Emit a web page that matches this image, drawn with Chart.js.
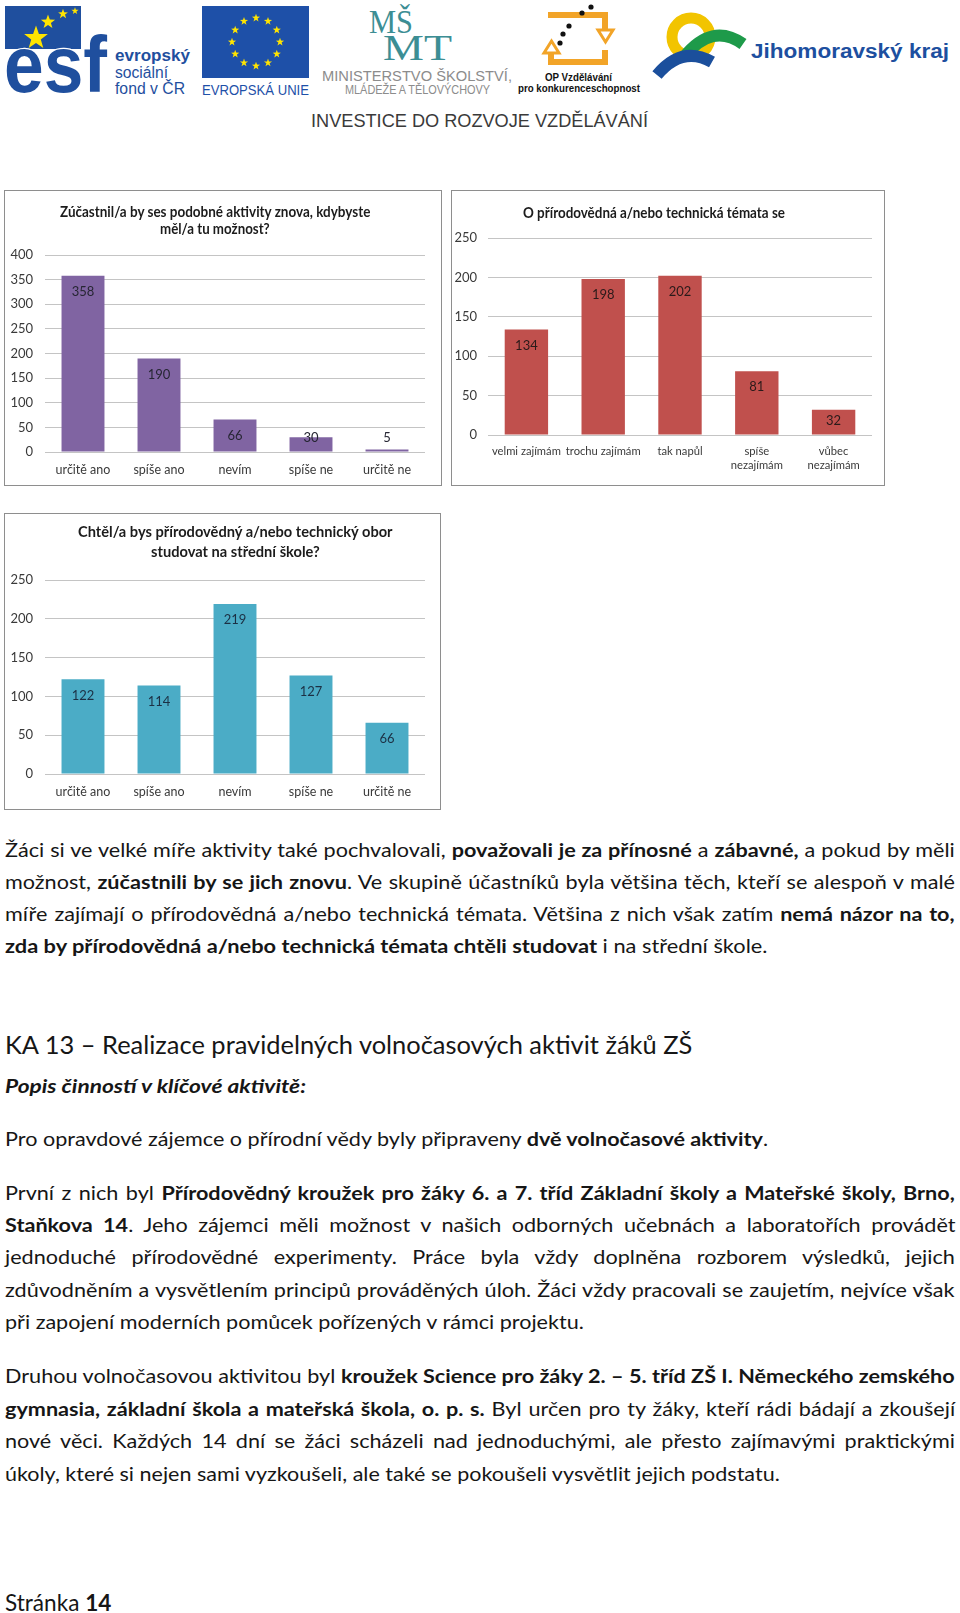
<!DOCTYPE html>
<html lang="cs"><head><meta charset="utf-8">
<script src="https://cdn.jsdelivr.net/npm/chart.js@4.4.1/dist/chart.umd.min.js"></script>
<style>
html,body{margin:0;padding:0;background:#fff;}
body{width:960px;height:1613px;position:relative;overflow:hidden;font-family:Lato,"Open Sans",sans-serif;color:#161616;}
.box{position:absolute;border:1px solid #8e8e8e;background:#fff;}
.box canvas{position:absolute;left:0;top:0;}
.ttl{position:absolute;white-space:nowrap;font-weight:700;font-size:15px;line-height:18px;color:#1c1c1c;transform-origin:0 50%;}
.ln{position:absolute;left:5px;white-space:nowrap;font-size:19px;line-height:24px;transform-origin:0 50%;}
.hd{font-size:25px;line-height:30px;}
.ft{font-size:23px;line-height:28px;}
svg text{font-family:"Liberation Sans",Arial,sans-serif;}
</style></head>
<body>
<script>
// ---- data ----
const cats1 = ['určitě ano','spíše ano','nevím','spíše ne','určitě ne'];
const vals1 = [358,190,66,30,5];
const yTicks1 = [0,50,100,150,200,250,300,350,400];

const cats2 = ['velmi zajímám','trochu zajímám','tak napůl',['spíše','nezajímám'],['vůbec','nezajímám']];
const vals2 = [134,198,202,81,32];
const yTicks2 = [0,50,100,150,200,250];

const cats3 = ['určitě ano','spíše ano','nevím','spíše ne','určitě ne'];
const vals3 = [122,114,219,127,66];
const yTicks3 = [0,50,100,150,200,250];
</script>

<svg id="hdr" width="960" height="140" style="position:absolute;left:0;top:0">
  <!-- ESF -->
  <rect x="5" y="6" width="76" height="43" fill="#1F4F9E"/>
  <text x="4" y="92" font-size="80" font-weight="700" fill="#1F4F9E" stroke="#fff" stroke-width="2.5" paint-order="stroke" textLength="103" lengthAdjust="spacingAndGlyphs">esf</text>
  <g id="esfStars" fill="#FFE400"></g>
  <text x="115" y="61" font-size="17" font-weight="700" fill="#1F4F9E" textLength="75" lengthAdjust="spacingAndGlyphs">evropský</text>
  <text x="115" y="78" font-size="16" fill="#1F4F9E" textLength="53" lengthAdjust="spacingAndGlyphs">sociální</text>
  <text x="115" y="94" font-size="16" fill="#1F4F9E" textLength="70" lengthAdjust="spacingAndGlyphs">fond v ČR</text>
  <!-- EU -->
  <rect x="202" y="6" width="107" height="72" fill="#1E50A8"/>
  <g id="euStars" fill="#FFE400"></g>
  <text x="202" y="95" font-size="14" fill="#1E50A8" textLength="107" lengthAdjust="spacingAndGlyphs">EVROPSKÁ UNIE</text>
  <!-- MSMT -->
  <text x="369" y="33" font-size="34" fill="#3C8E94" style="font-family:'Liberation Serif',serif" textLength="44" lengthAdjust="spacingAndGlyphs">MŠ</text>
  <text x="383" y="60" font-size="36" fill="#3C8E94" style="font-family:'Liberation Serif',serif" textLength="69" lengthAdjust="spacingAndGlyphs">MT</text>
  <text x="322" y="81" font-size="15" fill="#8c8c8c" textLength="190" lengthAdjust="spacingAndGlyphs">MINISTERSTVO ŠKOLSTVÍ,</text>
  <text x="345" y="94" font-size="12" fill="#8c8c8c" textLength="145" lengthAdjust="spacingAndGlyphs">MLÁDEŽE A TĚLOVÝCHOVY</text>
  <!-- OP -->
  <g fill="none" stroke="#F2A428" stroke-width="6">
    <path d="M548 15 H605 V30"/>
    <path d="M551 52 V62 H605 V50"/>
  </g>
  <polygon points="598,30 613,30 605.5,42" fill="#fff" stroke="#F2A428" stroke-width="3"/>
  <polygon points="544,53 559,53 551.5,41" fill="#fff" stroke="#F2A428" stroke-width="3"/>
  <g fill="#111">
    <circle cx="560" cy="43" r="2.6"/><circle cx="563" cy="34" r="2.6"/><circle cx="569" cy="26" r="2.6"/>
    <circle cx="582" cy="13" r="2.6"/><circle cx="591" cy="7" r="2.6"/>
  </g>
  <text x="545" y="81" font-size="11" font-weight="700" fill="#111" textLength="67" lengthAdjust="spacingAndGlyphs">OP Vzdělávání</text>
  <text x="518" y="92" font-size="11" font-weight="700" fill="#111" textLength="122" lengthAdjust="spacingAndGlyphs">pro konkurenceschopnost</text>
  <!-- JMK -->
  <circle cx="691" cy="37" r="19" fill="none" stroke="#F2C400" stroke-width="11"/>
  <path d="M684 57 Q712 22 743 44" fill="none" stroke="#1E9A4A" stroke-width="12"/>
  <path d="M657 75 Q682 45 712 62" fill="none" stroke="#1B4F9C" stroke-width="12"/>
  <text x="751" y="58" font-size="20" font-weight="700" fill="#1D4F9F" textLength="198" lengthAdjust="spacingAndGlyphs">Jihomoravský kraj</text>
  <!-- slogan -->
  <text x="311" y="127" font-size="19" fill="#3a3a3a" textLength="337" lengthAdjust="spacingAndGlyphs">INVESTICE DO ROZVOJE VZDĚLÁVÁNÍ</text>
</svg>

<!-- charts -->
<div class="box" style="left:4px;top:190px;width:436px;height:294px"><canvas id="c1" width="436" height="294"></canvas></div>
<div class="box" style="left:451px;top:190px;width:432px;height:294px"><canvas id="c2" width="432" height="294"></canvas></div>
<div class="box" style="left:4px;top:513px;width:435px;height:295px"><canvas id="c3" width="435" height="295"></canvas></div>

<div class="ttl" data-w="310" data-cx="215" style="top:202px">Zúčastnil/a by ses podobné aktivity znova, kdybyste</div>
<div class="ttl" data-w="110" data-cx="215" style="top:219px">měl/a tu možnost?</div>
<div class="ttl" data-w="262" data-cx="654" style="top:203px">O přírodovědná a/nebo technická témata se</div>
<div class="ttl" data-w="315" data-cx="235" style="top:522px">Chtěl/a bys přírodovědný a/nebo technický obor</div>
<div class="ttl" data-w="169" data-cx="235.5" style="top:542px">studovat na střední škole?</div>

<!-- body text -->
<div class="ln body" data-w="950" data-j="1" style="top:838px">Žáci si ve velké míře aktivity také pochvalovali, <b>považovali je za přínosné</b> a <b>zábavné,</b> a pokud by měli</div>
<div class="ln body" data-w="950" data-j="1" style="top:870px">možnost, <b>zúčastnili by se jich znovu</b>. Ve skupině účastníků byla většina těch, kteří se alespoň v malé</div>
<div class="ln body" data-w="950" data-j="1" style="top:902px">míře zajímají o přírodovědná a/nebo technická témata. Většina z nich však zatím <b>nemá názor na to,</b></div>
<div class="ln body" data-w="762" style="top:934px"><b>zda by přírodovědná a/nebo technická témata chtěli studovat</b> i na střední škole.</div>

<div class="ln hd" data-w="687" style="top:1029px">KA 13 – Realizace pravidelných volnočasových aktivit žáků ZŠ</div>
<div class="ln" data-w="301" style="top:1074px"><b><i>Popis činností v klíčové aktivitě:</i></b></div>
<div class="ln body" data-w="763" style="top:1127px">Pro opravdové zájemce o přírodní vědy byly připraveny <b>dvě volnočasové aktivity</b>.</div>

<div class="ln body" data-w="950" data-j="1" style="top:1181px">První z nich byl <b>Přírodovědný kroužek pro žáky 6. a 7. tříd Základní školy a Mateřské školy, Brno,</b></div>
<div class="ln body" data-w="950" data-j="1" style="top:1213px"><b>Staňkova 14</b>. Jeho zájemci měli možnost v našich odborných učebnách a laboratořích provádět</div>
<div class="ln body" data-w="950" data-j="1" style="top:1245px">jednoduché přírodovědné experimenty. Práce byla vždy doplněna rozborem výsledků, jejich</div>
<div class="ln body" data-w="950" data-j="1" style="top:1278px">zdůvodněním a vysvětlením principů prováděných úloh. Žáci vždy pracovali se zaujetím, nejvíce však</div>
<div class="ln body" data-w="579" style="top:1310px">při zapojení moderních pomůcek pořízených v rámci projektu.</div>

<div class="ln body" data-w="950" data-j="1" style="top:1364px">Druhou volnočasovou aktivitou byl <b>kroužek Science pro žáky 2. – 5. tříd ZŠ I. Německého zemského</b></div>
<div class="ln body" data-w="950" data-j="1" style="top:1397px"><b>gymnasia, základní škola a mateřská škola, o. p. s.</b> Byl určen pro ty žáky, kteří rádi bádají a zkoušejí</div>
<div class="ln body" data-w="950" data-j="1" style="top:1429px">nové věci. Každých 14 dní se žáci scházeli nad jednoduchými, ale přesto zajímavými praktickými</div>
<div class="ln body" data-w="775" style="top:1462px">úkoly, které si nejen sami vyzkoušeli, ale také se pokoušeli vysvětlit jejich podstatu.</div>

<div class="ln ft" data-w="106" style="top:1588px">Stránka <b>14</b></div>

<script>
// ---- header stars ----
function starPts(cx,cy,r){const p=[];for(let i=0;i<10;i++){const a=-Math.PI/2+i*Math.PI/5;const rr=i%2?r*0.4:r;p.push((cx+rr*Math.cos(a)).toFixed(1)+','+(cy+rr*Math.sin(a)).toFixed(1));}return p.join(' ');}
const NS='http://www.w3.org/2000/svg';
function addStar(g,cx,cy,r){const s=document.createElementNS(NS,'polygon');s.setAttribute('points',starPts(cx,cy,r));g.appendChild(s);}
const esfG=document.getElementById('esfStars');
[[36,38,12.5],[48,22,7.5],[63,14,5.2],[75,11,3.8]].forEach(s=>addStar(esfG,s[0],s[1],s[2]));
const euG=document.getElementById('euStars');
for(let i=0;i<12;i++){const a=i*Math.PI/6;addStar(euG,256+24*Math.sin(a),42-24*Math.cos(a),4.3);}

// ---- text fitting ----
document.querySelectorAll('.ttl').forEach(el=>{
  const nat=el.offsetWidth, tw=+el.dataset.w;
  el.style.left=(+el.dataset.cx - tw/2)+'px';
  el.style.transform='scaleX('+(tw/nat)+')';
});
const lines=[...document.querySelectorAll('.ln')];
lines.forEach(el=>{el._nat=el.offsetWidth;});
const ref=lines.filter(el=>el.classList.contains('body')&&!el.dataset.j);
let S=0;ref.forEach(el=>{S+= (+el.dataset.w)/el._nat;});S/=ref.length;
lines.forEach(el=>{
  const tw=+el.dataset.w;
  if(el.dataset.j){
    const spaces=(el.textContent.match(/ /g)||[]).length;
    let s=S;const need=tw/s-el._nat;
    if(need>0&&spaces>0){el.style.wordSpacing=(need/spaces)+'px';}
    else{s=tw/el._nat;}
    el.style.transform='scaleX('+s+')';
  } else {
    el.style.transform='scaleX('+(tw/el._nat)+')';
  }
});

// ---- charts ----
const valueLabels={
  id:'valueLabels',
  afterDatasetsDraw(chart,args,opts){
    const ctx=chart.ctx, meta=chart.getDatasetMeta(0), data=chart.data.datasets[0].data;
    ctx.save();
    ctx.font='13px Lato';ctx.fillStyle=opts.color||'#222';ctx.textAlign='center';ctx.textBaseline='middle';
    meta.data.forEach((bar,i)=>{
      const y=Math.min(bar.y+16,bar.base-14);
      ctx.fillText(String(data[i]),bar.x,y);
    });
    ctx.restore();
  }
};
function makeChart(id,cats,vals,yTicks,color,labelColor,geo){
  return new Chart(document.getElementById(id),{
    type:'bar',
    data:{labels:cats,datasets:[{data:vals,backgroundColor:color,borderWidth:0,barPercentage:0.565,categoryPercentage:1}]},
    options:{
      responsive:false,animation:false,devicePixelRatio:1,
      layout:{padding:{left:0,right:geo.r,top:geo.t,bottom:0}},
      plugins:{legend:{display:false},tooltip:{enabled:false},title:{display:false},valueLabels:{color:labelColor}},
      scales:{
        x:{grid:{display:false,drawTicks:false},border:{display:false},
           ticks:{color:'#3a3a3a',font:{family:'Lato',size:geo.xf},padding:10,maxRotation:0,minRotation:0,autoSkip:false},
           afterFit(s){s.height=geo.b;}},
        y:{min:yTicks[0],max:yTicks[yTicks.length-1],
           afterBuildTicks(s){s.ticks=yTicks.map(v=>({value:v}));},
           grid:{color:'#c4c4c4',drawTicks:false},border:{display:false},
           ticks:{color:'#3a3a3a',font:{family:'Lato',size:13},padding:geo.yp},
           afterFit(s){s.width=geo.l;}}
      }
    },
    plugins:[valueLabels]
  });
}
makeChart('c1',cats1,vals1,yTicks1,'#8064A2','#262633',{l:40,r:16,t:64,b:33,yp:12,xf:12.5});
makeChart('c2',cats2,vals2,yTicks2,'#C0504D','#2a1a1a',{l:36,r:12,t:47,b:50,yp:11,xf:11.2});
makeChart('c3',cats3,vals3,yTicks3,'#4BACC6','#1c3044',{l:40,r:15,t:66,b:35,yp:12,xf:12.5});
</script>
</body></html>
